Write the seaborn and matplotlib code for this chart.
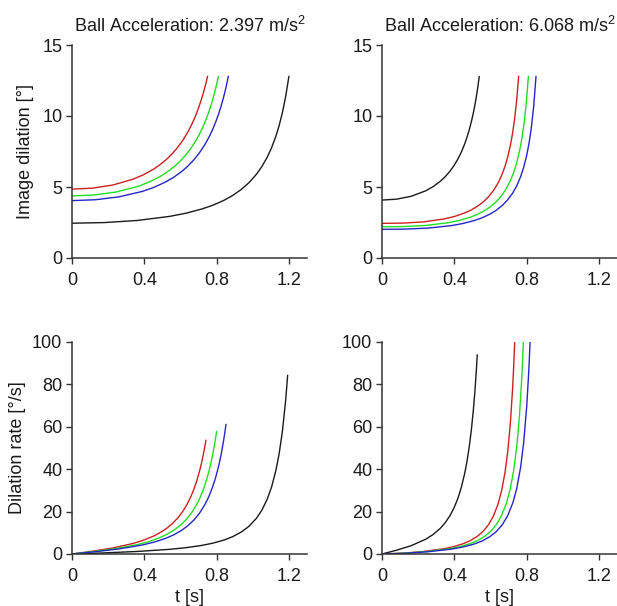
import numpy as np
import pandas as pd
import matplotlib
matplotlib.use("Agg")
import matplotlib.pyplot as plt
import seaborn as sns

# ---------------- data ----------------
titles = ["Ball Acceleration: 2.397 m/s$^2$", "Ball Acceleration: 6.068 m/s$^2$"]
series_names = ["black", "red", "green", "blue"]
series_colors = {"black": "#1a1a1a", "red": "#cc2020", "green": "#22dd22", "blue": "#2525c8"}

# ----- top left: image dilation [deg], a = 2.397 -----
tl_black_t = [0, 0.18, 0.36, 0.54, 0.63, 0.72, 0.78, 0.84, 0.888, 0.936, 0.978, 1.02, 1.05, 1.08, 1.104, 1.128, 1.146, 1.164, 1.182, 1.2]
tl_black_v = [2.45, 2.495, 2.642, 2.930, 3.153, 3.456, 3.721, 4.058, 4.397, 4.823, 5.293, 5.892, 6.432, 7.101, 7.763, 8.581, 9.333, 10.24, 11.37, 12.80]
tl_red_t = [0, 0.1125, 0.225, 0.3375, 0.39375, 0.45, 0.4875, 0.525, 0.555, 0.585, 0.61125, 0.6375, 0.65625, 0.675, 0.69, 0.705, 0.71625, 0.7275, 0.73875, 0.75]
tl_red_v = [4.85, 4.919, 5.137, 5.548, 5.852, 6.247, 6.575, 6.971, 7.350, 7.795, 8.255, 8.797, 9.247, 9.759, 10.22, 10.75, 11.19, 11.67, 12.20, 12.80]
tl_green_t = [0, 0.1215, 0.243, 0.3645, 0.42525, 0.486, 0.5265, 0.567, 0.5994, 0.6318, 0.66015, 0.6885, 0.70875, 0.729, 0.7452, 0.7614, 0.77355, 0.7857, 0.79785, 0.81]
tl_green_v = [4.37, 4.436, 4.645, 5.043, 5.339, 5.728, 6.055, 6.452, 6.834, 7.292, 7.769, 8.336, 8.814, 9.368, 9.873, 10.45, 10.94, 11.49, 12.11, 12.80]
tl_blue_t = [0, 0.1298, 0.2595, 0.3893, 0.4541, 0.519, 0.5623, 0.6055, 0.6401, 0.6747, 0.7050, 0.7353, 0.7569, 0.7785, 0.7958, 0.8131, 0.8261, 0.8391, 0.8520, 0.865]
tl_blue_v = [4.04, 4.103, 4.305, 4.690, 4.979, 5.361, 5.684, 6.079, 6.462, 6.923, 7.407, 7.992, 8.487, 9.066, 9.603, 10.22, 10.75, 11.35, 12.02, 12.80]

# ----- top right: image dilation [deg], a = 6.068 -----
tr_black_t = [0, 0.0807, 0.1614, 0.2421, 0.28245, 0.3228, 0.3497, 0.3766, 0.3981, 0.4196, 0.4385, 0.4573, 0.4708, 0.4842, 0.4950, 0.5057, 0.5138, 0.5219, 0.5299, 0.538]
tr_black_v = [4.08, 4.143, 4.346, 4.733, 5.023, 5.405, 5.728, 6.123, 6.506, 6.966, 7.449, 8.031, 8.525, 9.099, 9.632, 10.24, 10.77, 11.36, 12.02, 12.79]
tr_red_t = [0, 0.1134, 0.2268, 0.3402, 0.3969, 0.4536, 0.4914, 0.5292, 0.5594, 0.5897, 0.6161, 0.6426, 0.6615, 0.6804, 0.6955, 0.7106, 0.7220, 0.7333, 0.7447, 0.756]
tr_red_v = [2.44, 2.457, 2.541, 2.742, 2.910, 3.151, 3.369, 3.652, 3.944, 4.319, 4.742, 5.294, 5.805, 6.455, 7.116, 7.958, 8.758, 9.764, 11.06, 12.80]
tr_green_t = [0, 0.1215, 0.243, 0.3645, 0.42525, 0.486, 0.5265, 0.567, 0.5994, 0.6318, 0.66015, 0.6885, 0.70875, 0.729, 0.7452, 0.7614, 0.77355, 0.7857, 0.79785, 0.81]
tr_green_v = [2.2, 2.216, 2.294, 2.479, 2.636, 2.861, 3.065, 3.331, 3.607, 3.964, 4.370, 4.906, 5.407, 6.049, 6.713, 7.571, 8.400, 9.458, 10.86, 12.80]
tr_blue_t = [0, 0.1278, 0.2556, 0.3834, 0.4473, 0.5112, 0.5538, 0.5964, 0.6305, 0.6646, 0.6944, 0.7242, 0.7455, 0.7668, 0.7838, 0.8009, 0.8137, 0.8264, 0.8392, 0.852]
tr_blue_v = [2.02, 2.035, 2.107, 2.281, 2.428, 2.640, 2.833, 3.085, 3.349, 3.690, 4.082, 4.601, 5.091, 5.724, 6.386, 7.253, 8.103, 9.203, 10.69, 12.80]

# ----- bottom left: dilation rate [deg/s], a = 2.397 -----
bl_black_t = [0, 0.18, 0.36, 0.54, 0.63, 0.72, 0.78, 0.84, 0.888, 0.936, 0.978, 1.02, 1.05, 1.08, 1.104, 1.128, 1.146, 1.164, 1.182, 1.193]
bl_black_v = [0, 0.532, 1.193, 2.200, 2.972, 4.082, 5.127, 6.564, 8.148, 10.33, 13.00, 16.81, 20.62, 25.86, 31.58, 39.43, 47.38, 57.96, 72.52, 84.30]
bl_red_t = [0, 0.1125, 0.225, 0.3375, 0.39375, 0.45, 0.4875, 0.525, 0.555, 0.585, 0.61125, 0.6375, 0.65625, 0.675, 0.69, 0.705, 0.71625, 0.7275, 0.73875, 0.741]
bl_red_v = [0, 1.301, 2.837, 4.964, 6.443, 8.391, 10.07, 12.19, 14.32, 16.99, 19.90, 23.58, 26.81, 30.72, 34.46, 38.90, 42.82, 47.32, 52.56, 53.70]
bl_green_t = [0, 0.1215, 0.243, 0.3645, 0.42525, 0.486, 0.5265, 0.567, 0.5994, 0.6318, 0.66015, 0.6885, 0.70875, 0.729, 0.7452, 0.7614, 0.77355, 0.7857, 0.79785, 0.80]
bl_green_v = [0, 1.158, 2.539, 4.488, 5.870, 7.722, 9.347, 11.43, 13.56, 16.26, 19.29, 23.17, 26.66, 30.98, 35.18, 40.28, 44.87, 50.25, 56.62, 57.89]
bl_blue_t = [0, 0.1298, 0.2595, 0.3893, 0.4541, 0.519, 0.5623, 0.6055, 0.6401, 0.6747, 0.7050, 0.7353, 0.7569, 0.7785, 0.7958, 0.8131, 0.8261, 0.8391, 0.852]
bl_blue_v = [0, 1.085, 2.388, 4.251, 5.589, 7.406, 9.020, 11.11, 13.27, 16.05, 19.20, 23.32, 27.07, 31.77, 36.44, 42.16, 47.41, 53.67, 61.16]

# ----- bottom right: dilation rate [deg/s], a = 6.068 -----
br_black_t = [0, 0.0807, 0.1614, 0.2421, 0.28245, 0.3228, 0.3497, 0.3766, 0.3981, 0.4196, 0.4385, 0.4573, 0.4708, 0.4842, 0.4950, 0.5057, 0.5138, 0.5165, 0.5219, 0.527]
br_black_v = [0, 1.782, 3.922, 6.975, 9.166, 12.13, 14.76, 18.16, 21.68, 26.20, 31.30, 37.94, 44.00, 51.56, 59.09, 68.28, 76.60, 79.7, 86.6, 93.97]
br_red_t = [0, 0.1134, 0.2268, 0.3402, 0.3969, 0.4536, 0.4914, 0.5292, 0.5594, 0.5897, 0.6161, 0.6426, 0.6615, 0.6804, 0.6955, 0.7106, 0.722, 0.728, 0.734]
br_red_v = [0, 0.379, 1.146, 2.452, 3.480, 4.985, 6.422, 8.436, 10.69, 13.88, 17.87, 23.72, 29.79, 38.42, 48.25, 62.34, 77.3, 87.58, 100.0]
br_green_t = [0, 0.1215, 0.243, 0.3645, 0.42525, 0.486, 0.5265, 0.567, 0.5994, 0.6318, 0.66015, 0.6885, 0.70875, 0.729, 0.7452, 0.7533, 0.7614, 0.7736, 0.7776, 0.782]
br_green_v = [0, 0.363, 1.100, 2.362, 3.364, 4.841, 6.263, 8.269, 10.54, 13.78, 17.89, 24.00, 30.45, 39.75, 50.61, 57.75, 66.48, 83.82, 91.1, 100.0]
br_blue_t = [0, 0.1278, 0.2556, 0.3834, 0.4473, 0.5112, 0.5538, 0.5964, 0.6305, 0.6646, 0.6944, 0.7242, 0.7455, 0.7668, 0.7838, 0.8009, 0.8111, 0.8154, 0.819]
br_blue_v = [0, 0.351, 1.066, 2.296, 3.277, 4.732, 6.142, 8.145, 10.43, 13.71, 17.91, 24.23, 30.97, 40.87, 52.59, 70.03, 85.0, 92.58, 100.0]

x_ticks = [0, 0.4, 0.8, 1.2]
x_tick_labels = ["0", "0.4", "0.8", "1.2"]
top_y_ticks = [0, 5, 10, 15]
bottom_y_ticks = [0, 20, 40, 60, 80, 100]
top_ylabel = "Image dilation [°]"
bottom_ylabel = "Dilation rate [°/s]"
xlabel = "t [s]"

# ---------------- build long tables ----------------
def make_df(groups):
    frames = []
    for name, t, v in groups:
        frames.append(pd.DataFrame({"t": t, "value": v, "series": name}))
    return pd.concat(frames, ignore_index=True)

panels = {
    "tl": make_df([("black", tl_black_t, tl_black_v), ("red", tl_red_t, tl_red_v),
                   ("green", tl_green_t, tl_green_v), ("blue", tl_blue_t, tl_blue_v)]),
    "tr": make_df([("black", tr_black_t, tr_black_v), ("red", tr_red_t, tr_red_v),
                   ("green", tr_green_t, tr_green_v), ("blue", tr_blue_t, tr_blue_v)]),
    "bl": make_df([("black", bl_black_t, bl_black_v), ("red", bl_red_t, bl_red_v),
                   ("green", bl_green_t, bl_green_v), ("blue", bl_blue_t, bl_blue_v)]),
    "br": make_df([("black", br_black_t, br_black_v), ("red", br_red_t, br_red_v),
                   ("green", br_green_t, br_green_v), ("blue", br_blue_t, br_blue_v)]),
}

# ---------------- style ----------------
sns.set_theme(style="ticks")
plt.rcParams["font.family"] = ["Liberation Sans", "DejaVu Sans"]
plt.rcParams["mathtext.fontset"] = "custom"
plt.rcParams["mathtext.rm"] = "Liberation Sans"
plt.rcParams["mathtext.it"] = "Liberation Sans:italic"
plt.rcParams["mathtext.bf"] = "Liberation Sans:bold"

fig = plt.figure(figsize=(6.17, 6.06), dpi=100)
W, H = 617.0, 606.0
def ax_at(x0, y_top, x1, y_bot):
    return fig.add_axes([x0 / W, 1 - y_bot / H, (x1 - x0) / W, (y_bot - y_top) / H])

axes = {
    "tl": ax_at(72, 45, 307, 258),
    "tr": ax_at(382, 45, 617, 258),
    "bl": ax_at(72, 342, 307, 554),
    "br": ax_at(382, 342, 617, 554),
}

fs = 13
txt = "#1a1a1a"
for key, ax in axes.items():
    df = panels[key]
    sns.lineplot(data=df, x="t", y="value", hue="series", units="series",
                 hue_order=series_names, palette=series_colors, estimator=None,
                 sort=True, legend=False, linewidth=1.0, ax=ax)
    ax.set_xlim(0, 1.3)
    ax.set_xticks(x_ticks)
    ax.set_xticklabels(x_tick_labels)
    if key in ("tl", "tr"):
        ax.set_ylim(0, 15)
        ax.set_yticks(top_y_ticks)
        ax.set_xlabel("")
    else:
        ax.set_ylim(0, 100)
        ax.set_yticks(bottom_y_ticks)
        ax.set_xlabel(xlabel, fontsize=fs, color=txt, labelpad=3)
    ax.set_ylabel("")
    sns.despine(ax=ax)
    for s in ("left", "bottom"):
        ax.spines[s].set_color("#333333")
        ax.spines[s].set_linewidth(1.1)
    ax.tick_params(axis="both", direction="out", length=4, width=1.0,
                   color="#333333", labelsize=fs, labelcolor=txt)
    ax.tick_params(axis="x", pad=6)
    ax.tick_params(axis="y", pad=3)

axes["tl"].set_ylabel(top_ylabel, fontsize=fs, color=txt, labelpad=6)
axes["bl"].set_ylabel(bottom_ylabel, fontsize=fs, color=txt, labelpad=4)
axes["tl"].set_title(titles[0], fontsize=fs, color=txt, pad=9)
axes["tr"].set_title(titles[1], fontsize=fs, color=txt, pad=9)

fig.savefig("out.png", dpi=100, facecolor="white")
